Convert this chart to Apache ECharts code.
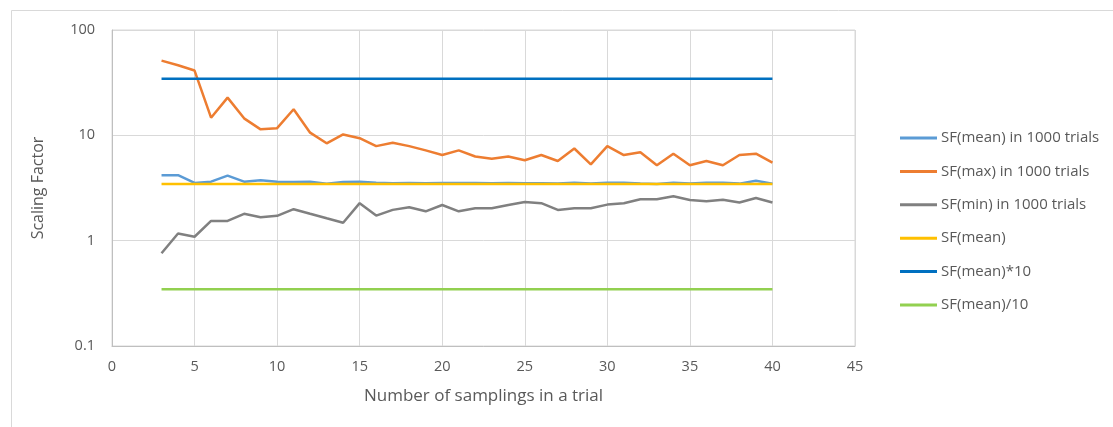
<!DOCTYPE html>
<html>
<head>
<meta charset="utf-8">
<script src="https://cdn.jsdelivr.net/npm/echarts@6/dist/echarts.min.js"></script>
<style>
  html, body { margin: 0; padding: 0; background: #fff; }
  #chart { width: 1113px; height: 427px; }
</style>
</head>
<body>
<div id="chart"></div>
<script>
// Number of samplings per trial
const samplings = [3, 4, 5, 6, 7, 8, 9, 10, 11, 12, 13, 14, 15, 16, 17, 18, 19, 20, 21,
  22, 23, 24, 25, 26, 27, 28, 29, 30, 31, 32, 33, 34, 35, 36, 37, 38, 39, 40];

// Scaling factor statistics over 1000 trials
const sfMeanTrials = [4.18, 4.18, 3.53, 3.63, 4.14, 3.63, 3.75, 3.63, 3.6, 3.63, 3.48, 3.6, 3.62,
  3.55, 3.5, 3.52, 3.5, 3.52, 3.52, 3.52, 3.5, 3.52, 3.5, 3.5, 3.48, 3.55, 3.48, 3.55, 3.55,
  3.48, 3.45, 3.55, 3.48, 3.55, 3.55, 3.48, 3.7, 3.48];
const sfMaxTrials = [51.2, 46.3, 41.2, 14.7, 22.8, 14.5, 11.4, 11.7, 17.7, 10.6, 8.4, 10.2, 9.4,
  7.9, 8.5, 7.9, 7.2, 6.5, 7.2, 6.3, 6.0, 6.3, 5.8, 6.5, 5.7, 7.5, 5.3, 7.9, 6.5, 6.9, 5.2,
  6.7, 5.2, 5.7, 5.2, 6.5, 6.7, 5.5];
const sfMinTrials = [0.76, 1.17, 1.09, 1.54, 1.54, 1.80, 1.67, 1.72, 1.99, 1.80, 1.63, 1.48, 2.27,
  1.73, 1.96, 2.08, 1.90, 2.18, 1.90, 2.03, 2.03, 2.18, 2.33, 2.27, 1.96, 2.03, 2.03, 2.20,
  2.27, 2.47, 2.47, 2.64, 2.43, 2.37, 2.45, 2.30, 2.54, 2.30];

// Reference scaling factor
const sfMean = 3.45;

const seriesNames = ['SF(mean) in 1000 trials', 'SF(max) in 1000 trials', 'SF(min) in 1000 trials',
  'SF(mean)', 'SF(mean)*10', 'SF(mean)/10'];
const seriesColors = ['#5B9BD5', '#ED7D31', '#808080', '#FFC000', '#0070C0', '#92D050'];

const yTicks = [0.1, 1, 10, 100];

const FONT = '"Open Sans"';
const TEXT = '#595959';

const pair = (ys) => samplings.map((x, i) => [x, ys[i]]);
const flat = (v) => [[samplings[0], v], [samplings[samplings.length - 1], v]];

const seriesData = [
  pair(sfMeanTrials),
  pair(sfMaxTrials),
  pair(sfMinTrials),
  flat(sfMean),
  flat(sfMean * 10),
  flat(sfMean / 10)
];

const chart = echarts.init(document.getElementById('chart'), null, { renderer: 'canvas' });

chart.setOption({
  animation: false,
  backgroundColor: '#fff',
  textStyle: { fontFamily: FONT, color: TEXT },
  graphic: [{
    type: 'rect',
    left: 9, top: 8,
    shape: { width: 1200, height: 500 },
    style: { fill: 'none', stroke: '#d9d9d9', lineWidth: 1 },
    z: -10
  }],
  grid: { left: 112, top: 30, width: 743, height: 316, containLabel: false, show: true, borderColor: '#d9d9d9', borderWidth: 1 },
  legend: {
    orient: 'vertical',
    left: 895, top: 124,
    itemWidth: 37, itemHeight: 3,
    itemGap: 15.4,
    icon: 'rect',
    textStyle: { fontFamily: FONT, fontSize: 15, color: TEXT, lineHeight: 18, padding: [0, 0, 0, -1] },
    data: seriesNames
  },
  xAxis: {
    type: 'value',
    min: 0, max: 45, interval: 5,
    name: 'Number of samplings in a trial',
    nameLocation: 'middle',
    nameGap: 42,
    nameTextStyle: { fontFamily: FONT, fontSize: 17, color: TEXT },
    axisLine: { show: true, lineStyle: { color: '#bfbfbf' } },
    axisTick: { show: false },
    axisLabel: { fontFamily: FONT, fontSize: 14.5, color: TEXT, margin: 13 },
    splitLine: { show: true, lineStyle: { color: '#d9d9d9' } }
  },
  yAxis: {
    type: 'log',
    logBase: 10,
    min: yTicks[0], max: yTicks[yTicks.length - 1],
    name: 'Scaling Factor',
    nameLocation: 'middle',
    nameGap: 66,
    nameTextStyle: { fontFamily: FONT, fontSize: 16, color: TEXT },
    axisLine: { show: true, lineStyle: { color: '#bfbfbf' } },
    axisTick: { show: false },
    axisLabel: { fontFamily: FONT, fontSize: 14.5, color: TEXT, margin: 17, formatter: (v) => String(v) },
    splitLine: { show: true, lineStyle: { color: '#d9d9d9' } }
  },
  series: seriesNames.map((name, i) => ({
    name,
    type: 'line',
    data: seriesData[i],
    symbol: 'none',
    color: seriesColors[i],
    lineStyle: { width: 2.5, color: seriesColors[i] },
    z: 2 + i
  }))
});
</script>
</body>
</html>
